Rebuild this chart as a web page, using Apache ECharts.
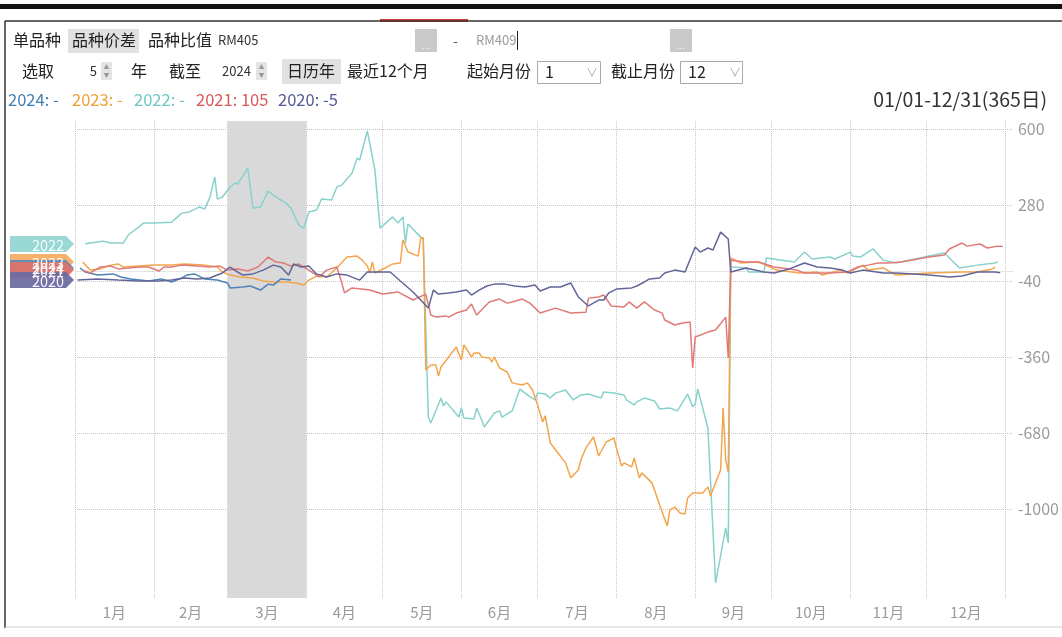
<!DOCTYPE html>
<html><head><meta charset="utf-8">
<script src="https://cdn.jsdelivr.net/npm/echarts@6.0.0/dist/echarts.min.js"></script>
<style>html,body{margin:0;padding:0;background:#fff}#c{width:1062px;height:637px}</style>
</head><body><div id="c"></div>
<script>
const monthLabels = ['1月','2月','3月','4月','5月','6月','7月','8月','9月','10月','11月','12月'];
const monthStarts = [0,31,60,91,121,152,182,213,244,274,305,335,366];
const yTicks = [600,280,-40,-360,-680,-1000];
const years = ['2024','2023','2022','2021','2020'];
const legendValues = ['-','-','-','105','-5'];
const highlightMonth = [60,91];

const s2024 = [[2,15],[4,-2],[9,-15],[15,-10],[18,-23],[22,-31],[29,-40],[34,-31],[38,-44],[42,-27],[44,-15],[47,-10],[51,-31],[56,-36],[60,-48],[61,-69],[66,-65],[69,-61],[73,-78],[76,-53],[78,-57],[81,-31],[85,-36]];

const s2023 = [[3,40],[6,6],[10,11],[14,27],[17,32],[19,19],[25,23],[31,27],[38,27],[43,32],[51,27],[56,19],[58,-2],[61,-15],[65,-23],[70,-27],[74,-40],[78,-44],[83,-44],[87,-48],[90,-57],[92,-36],[95,-19],[99,-23],[103,15],[107,61],[111,65],[113,48],[115,23],[116,-6],[117,40],[118,-6],[122,15],[125,32],[128,36],[129,133],[131,82],[135,65],[136,141],[137,141],[138,-415],[140,-394],[142,-394],[143,-440],[144,-402],[150,-318],[152,-373],[153,-309],[156,-360],[157,-343],[159,-343],[160,-360],[163,-364],[164,-381],[165,-360],[167,-406],[170,-423],[172,-469],[176,-478],[178,-469],[180,-499],[182,-562],[184,-634],[185,-608],[187,-722],[190,-764],[193,-806],[195,-869],[198,-836],[199,-794],[201,-743],[204,-697],[206,-777],[209,-718],[212,-701],[213,-743],[215,-819],[216,-806],[219,-823],[220,-785],[222,-869],[223,-848],[227,-890],[230,-983],[233,-1072],[234,-1004],[236,-992],[238,-1017],[240,-1021],[241,-954],[243,-933],[247,-933],[249,-907],[250,-945],[254,-836],[255,-575],[256,-794],[257,-844],[258,57],[262,36],[268,40],[270,36],[276,6],[285,-6],[292,-2],[294,-15],[301,6],[304,-6],[310,27],[312,6],[318,15],[323,-15],[336,-6],[349,-2],[355,-2],[361,11],[362,19]];

const s2022 = [[4,116],[6,120],[11,128],[14,120],[19,120],[21,154],[27,204],[31,204],[38,208],[42,246],[45,251],[49,272],[51,263],[53,310],[55,398],[56,305],[58,314],[61,356],[63,373],[64,368],[68,436],[70,267],[73,272],[76,339],[79,314],[83,288],[85,267],[88,196],[90,183],[92,251],[95,259],[97,305],[101,301],[103,356],[105,364],[109,415],[111,478],[112,470],[115,592],[118,427],[120,183],[125,230],[127,204],[129,230],[130,120],[131,200],[136,145],[137,141],[139,-613],[140,-638],[144,-533],[145,-566],[146,-549],[151,-613],[152,-575],[153,-617],[157,-621],[158,-575],[160,-625],[161,-655],[165,-596],[167,-587],[168,-613],[172,-587],[175,-495],[179,-528],[181,-541],[182,-512],[185,-516],[187,-533],[189,-512],[193,-499],[196,-541],[199,-520],[202,-516],[207,-533],[208,-507],[212,-512],[216,-520],[217,-541],[220,-562],[221,-549],[224,-533],[228,-545],[230,-579],[234,-575],[237,-587],[241,-516],[243,-570],[244,-558],[245,-495],[249,-659],[252,-1312],[256,-1080],[257,-1143],[258,19],[259,19],[264,15],[265,-2],[271,-2],[272,57],[283,40],[287,82],[290,53],[297,61],[299,53],[305,82],[306,65],[309,61],[314,95],[318,48],[323,36],[336,65],[342,78],[348,15],[355,27],[362,36],[363,40]];

const s2021 = [[3,6],[6,-6],[10,19],[14,23],[17,11],[25,19],[29,19],[33,2],[35,19],[38,19],[42,27],[48,23],[53,19],[57,23],[60,6],[64,11],[68,2],[72,19],[76,61],[79,40],[82,36],[85,23],[88,32],[92,6],[96,-23],[99,6],[103,19],[105,-48],[106,-90],[109,-69],[116,-78],[121,-95],[127,-86],[133,-120],[138,-95],[140,-183],[142,-192],[146,-187],[147,-192],[150,-175],[154,-162],[156,-137],[158,-183],[163,-128],[167,-116],[170,-133],[172,-128],[176,-116],[179,-133],[183,-175],[189,-154],[195,-175],[201,-171],[202,-112],[206,-107],[208,-99],[211,-145],[216,-149],[218,-128],[221,-154],[224,-128],[228,-162],[231,-175],[232,-204],[236,-225],[239,-217],[242,-213],[243,-406],[244,-276],[249,-255],[252,-246],[256,-192],[257,-364],[258,48],[264,40],[269,40],[275,19],[284,6],[287,-6],[297,-6],[304,-2],[308,19],[312,27],[316,36],[320,36],[325,40],[336,61],[342,70],[344,95],[349,120],[351,107],[356,116],[359,99],[363,107],[365,105]];

const s2020 = [[1,-36],[9,-31],[17,-36],[25,-40],[33,-40],[38,-36],[43,-27],[48,-31],[53,-27],[58,-6],[61,19],[64,-2],[66,-15],[70,-10],[74,6],[78,27],[81,19],[84,-15],[86,32],[89,19],[92,23],[95,-10],[99,-23],[103,-10],[107,-15],[112,-36],[115,-2],[120,-2],[124,-2],[128,-40],[133,-86],[139,-154],[141,-78],[143,-95],[147,-90],[150,-86],[154,-78],[156,-99],[159,-78],[162,-61],[165,-53],[169,-53],[173,-61],[177,-65],[181,-57],[183,-82],[187,-65],[191,-65],[195,-48],[198,-107],[202,-145],[206,-120],[208,-120],[210,-90],[213,-74],[219,-69],[221,-61],[224,-44],[226,-31],[230,-27],[232,-6],[236,6],[240,-2],[244,103],[246,82],[249,99],[251,91],[254,166],[257,137],[258,-2],[264,15],[271,-2],[275,-6],[281,11],[287,36],[292,19],[297,15],[302,6],[305,-6],[310,6],[318,-6],[323,-6],[330,-10],[336,-15],[344,-23],[349,-19],[355,-2],[362,-2],[364,-5]];

const FONT = '"Noto Sans CJK SC", "Noto Sans", sans-serif';
const monthMid = monthLabels.map((m, i) => (monthStarts[i] + monthStarts[i + 1]) / 2);

const lineColors = {'2024':'#4f83b6','2023':'#f3a54c','2022':'#88d1cd','2021':'#e07a78','2020':'#626598'};
const tagColors  = {'2024':'#5a8cbf','2023':'#f3ad63','2022':'#93d6d2','2021':'#dd7468','2020':'#6f6ba1'};
const legendColors = {'2024':'#3f7fb3','2023':'#f0a035','2022':'#6dc8c3','2021':'#d95858','2020':'#525a94'};
const seriesData = {'2024':s2024,'2023':s2023,'2022':s2022,'2021':s2021,'2020':s2020};
const drawOrder = ['2022','2023','2024','2021','2020'];

function mk(name) {
  const data = seriesData[name];
  const s = {
    name, type:'line', data, showSymbol:false, symbol:'none', silent:true, animation:false,
    lineStyle:{width:1.5, color:lineColors[name]}, itemStyle:{color:lineColors[name]},
    markPoint:{
      silent:true, animation:false,
      symbol:'path://M0,0L56,0L64,8L56,16L0,16Z', symbolSize:[64,16], symbolOffset:[-33,0], symbolKeepAspect:false,
      itemStyle:{color:tagColors[name], opacity:0.95},
      label:{show:true, position:'inside', formatter:name, color:'#fff', fontSize:14.5, fontFamily:FONT, offset:[6,1]},
      data:[{coord:[0, data[0][1]]}]
    }
  };
  if (name === '2022') {
    s.markArea = {silent:true, animation:false, itemStyle:{color:'#d9d9d9'}, data:[[{xAxis:highlightMonth[0]},{xAxis:highlightMonth[1]}]]};
  }
  return s;
}

function T(x, y, text, size, fill, align) {
  return {type:'text', x, y, silent:true, z:100, style:{text, fill:fill||'#222', fontSize:size||16, fontFamily:FONT, align:align||'left', verticalAlign:'middle'}};
}
function R(x, y, w, h, fill, stroke) {
  return {type:'rect', silent:true, z:90, shape:{x, y, width:w, height:h}, style:{fill:fill||'none', stroke:stroke||null, lineWidth:1}};
}
function L(x1, y1, x2, y2, stroke, w) {
  return {type:'line', silent:true, z:95, shape:{x1, y1, x2, y2}, style:{stroke, lineWidth:w||1}};
}
function spinner(x, y) {
  return [R(x, y, 11, 18, '#e4e4e4'), T(x+5.5, y+5, '▲', 6, '#999', 'center'), T(x+5.5, y+13, '▼', 6, '#999', 'center')];
}

const graphics = [
  R(0, 4, 1062, 5, '#111'),
  L(5, 21, 1062, 21, '#333', 1.5),
  R(380, 19, 88, 3, '#d63a3a'),
  L(5, 21, 5, 628, '#333', 1.5),
  L(5, 627, 1062, 627, '#d0d0d0', 1),
  // row 1
  T(13, 40, '单品种', 16),
  R(68, 29, 71, 24, '#e1e1e1'),
  T(72, 40, '品种价差', 16),
  T(148, 40, '品种比值', 16),
  T(218, 40, 'RM405', 13, '#333'),
  R(415, 29, 22, 23, '#c9c9c9'),
  T(426, 45, '...', 10, '#fff', 'center'),
  T(453, 41, '-', 14, '#555'),
  T(476, 40, 'RM409', 13, '#9a9a9a'),
  L(517.5, 31, 517.5, 50, '#222', 1),
  R(670, 29, 22, 23, '#c9c9c9'),
  T(681, 45, '...', 10, '#fff', 'center'),
  // row 2
  T(22, 71, '选取', 16),
  T(97, 71, '5', 13, '#333', 'right'),
  ...spinner(101, 62),
  T(131, 71, '年', 16),
  T(169, 71, '截至', 16),
  T(222, 71, '2024', 13, '#333'),
  ...spinner(256, 62),
  R(282, 59, 59, 25, '#e1e1e1'),
  T(287, 71, '日历年', 16),
  T(347, 71, '最近12个月', 16),
  T(467, 71, '起始月份', 16),
  R(537.5, 61.5, 63, 22, '#fff', '#a8a8a8'),
  T(545, 72, '1', 16, '#222'),
  T(586, 72, '∨', 12, '#aaa'),
  T(611, 71, '截止月份', 16),
  R(680.5, 61.5, 62, 22, '#fff', '#a8a8a8'),
  T(688, 72, '12', 16, '#222'),
  T(729, 72, '∨', 12, '#aaa'),
  // row 3
  T(1047, 100, '01/01-12/31(365日)', 19.5, '#333', 'right')
];
const legendX = [8, 72, 134, 196, 278];
years.forEach((y, i) => graphics.push(T(legendX[i], 100, y + ': ' + legendValues[i], 16.5, legendColors[y])));

const chart = echarts.init(document.getElementById('c'), null, {renderer:'canvas'});
chart.setOption({
  animation:false,
  backgroundColor:'#fff',
  grid:{left:75, right:45, top:121, bottom:39, containLabel:false},
  xAxis:{
    type:'value', min:0, max:369,
    axisLine:{show:true, lineStyle:{color:'#e4e4e4'}},
    axisTick:{show:true, customValues:monthStarts, length:27, lineStyle:{color:'#e8e8e8', type:'dotted'}},
    axisLabel:{customValues:monthMid, margin:7, color:'#9a9a9a', fontSize:15, fontFamily:FONT,
      formatter:(v) => { const i = monthMid.findIndex(m => Math.abs(m - v) < 0.01); return i >= 0 ? monthLabels[i] : ''; }},
    splitLine:{show:true, lineStyle:{color:'#c4c4c4', type:'dotted', width:1}}
  },
  yAxis:{
    type:'value', position:'right', min:-1375, max:634,
    axisLine:{show:false},
    axisTick:{show:false, customValues:yTicks},
    axisLabel:{customValues:yTicks, margin:5, color:'#9a9a9a', fontSize:16, fontFamily:FONT, formatter:(v) => String(v)},
    splitLine:{show:true, lineStyle:{color:'#c4c4c4', type:'dotted', width:1}}
  },
  series: drawOrder.map(mk),
  graphic: graphics
});
</script></body></html>
